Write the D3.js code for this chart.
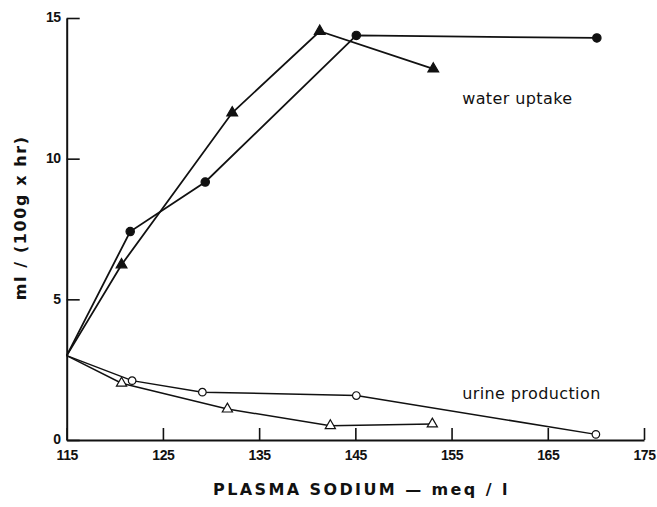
<!DOCTYPE html>
<html>
<head>
<meta charset="utf-8">
<script src="https://cdn.jsdelivr.net/npm/d3@7"></script>
<style>
  body { margin: 0; background: #fff; }
  text { font-family: "DejaVu Sans", sans-serif; fill: #111; }
  .tick-label { font-family: "Liberation Sans", sans-serif; font-size: 14px; font-weight: bold; letter-spacing: -0.4px; }
  .series-label { font-size: 16px; }
  .axis-title { font-size: 16px; font-weight: bold; }
</style>
</head>
<body>
<svg id="chart" width="657" height="507"></svg>
<script>
// x axis ticks (plasma sodium, meq/l) and y ticks (ml / (100g x hr))
const xTicks = [115, 125, 135, 145, 155, 165, 175];
const yTicks = [0, 5, 10, 15];

// water uptake, filled circles
const uptakeCircleX = [115, 121.6, 129.4, 145.1, 170.1];
const uptakeCircleY = [3, 7.41, 9.17, 14.38, 14.29];
// water uptake, filled triangles
const uptakeTriX = [115, 120.7, 132.2, 141.3, 153.1];
const uptakeTriY = [3, 6.23, 11.63, 14.53, 13.19];
// urine production, open circles
const urineCircleX = [115, 121.8, 129.1, 145.1, 170.0];
const urineCircleY = [3, 2.11, 1.70, 1.58, 0.20];
// urine production, open triangles
const urineTriX = [115, 120.7, 131.7, 142.4, 153.0];
const urineTriY = [3, 2.02, 1.10, 0.51, 0.57];

const svg = d3.select("#chart");

var x = d3.scaleLinear().domain([115, 175]).range([66.7, 644]);
var y = d3.scaleLinear().domain([0, 15]).range([440, 18]);

// axes: plain lines, ticks pointing inward
var xAxis = svg.append("g")
  .attr("transform", "translate(0," + y(0) + ")")
  .call(d3.axisBottom(x).tickValues(xTicks).tickSizeInner(-12).tickSizeOuter(0).tickFormat(d3.format("d")));
xAxis.select(".domain").attr("stroke", "#111").attr("stroke-width", 2);
xAxis.selectAll(".tick line").attr("stroke", "#111").attr("stroke-width", 1.6);
xAxis.selectAll(".tick text")
  .attr("class", "tick-label")
  .attr("y", 10)
  .attr("dy", "0.71em");

var yAxis = svg.append("g")
  .attr("transform", "translate(" + x(115) + ",0)")
  .call(d3.axisLeft(y).tickValues(yTicks).tickSizeInner(-13).tickSizeOuter(0));
yAxis.select(".domain").attr("stroke", "#111").attr("stroke-width", 2);
yAxis.selectAll(".tick line").attr("stroke", "#111").attr("stroke-width", 1.6);
yAxis.selectAll(".tick text")
  .attr("class", "tick-label")
  .attr("x", -6)
  .attr("dy", "0.28em");

function zip(xs, ys) {
  return xs.map(function(v, i) { return [v, ys[i]]; });
}

var line = d3.line()
  .x(function(d) { return x(d[0]); })
  .y(function(d) { return y(d[1]); });

var series = [
  { pts: zip(uptakeCircleX, uptakeCircleY), shape: d3.symbolCircle, size: 55, fill: "#111", width: 1.8 },
  { pts: zip(uptakeTriX, uptakeTriY), shape: d3.symbolTriangle, size: 50, fill: "#111", width: 1.8 },
  { pts: zip(urineCircleX, urineCircleY), shape: d3.symbolCircle, size: 45, fill: "#fff", width: 1.5 },
  { pts: zip(urineTriX, urineTriY), shape: d3.symbolTriangle, size: 45, fill: "#fff", width: 1.5 }
];

series.forEach(function(s) {
  svg.append("path")
    .datum(s.pts)
    .attr("d", line)
    .attr("fill", "none")
    .attr("stroke", "#111")
    .attr("stroke-width", s.width);

  // no marker on the shared starting point
  svg.selectAll(null)
    .data(s.pts.slice(1))
    .enter()
    .append("path")
    .attr("d", d3.symbol().type(s.shape).size(s.size))
    .attr("transform", function(d) { return "translate(" + x(d[0]) + "," + y(d[1]) + ")"; })
    .attr("fill", s.fill)
    .attr("stroke", "#111")
    .attr("stroke-width", 1.2);
});

svg.append("text")
  .attr("class", "series-label")
  .attr("x", x(156.1))
  .attr("y", y(11.95))
  .attr("letter-spacing", "0.4px")
  .text("water uptake");

svg.append("text")
  .attr("class", "series-label")
  .attr("x", x(156.1))
  .attr("y", y(1.45))
  .attr("letter-spacing", "0.4px")
  .text("urine production");

svg.append("text")
  .attr("class", "axis-title")
  .attr("x", 213)
  .attr("y", 495)
  .attr("letter-spacing", "2.4px")
  .text("PLASMA  SODIUM — meq / l");

svg.append("text")
  .attr("class", "axis-title")
  .attr("transform", "translate(26," + y(7.9) + ") rotate(-90)")
  .attr("text-anchor", "middle")
  .attr("font-size", "18px")
  .attr("letter-spacing", "1.6px")
  .text("ml / (100g x hr)");
</script>
</body>
</html>
